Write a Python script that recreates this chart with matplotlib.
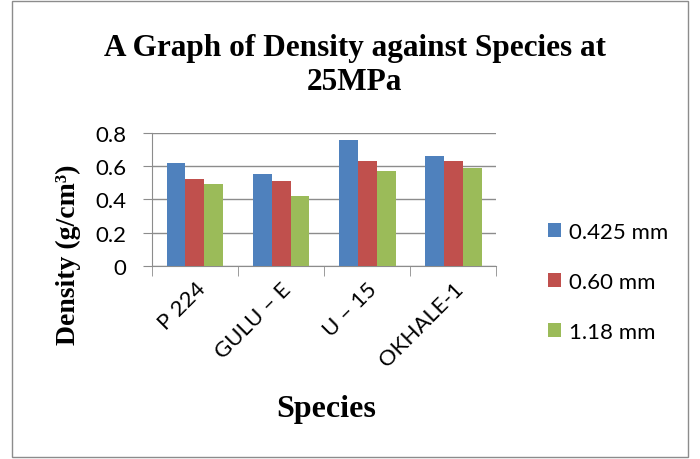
import numpy as np
import matplotlib.pyplot as plt
from matplotlib.patches import Rectangle

species = ['P 224', 'GULU – E', 'U – 15', 'OKHALE-1']
sizes = ['0.425 mm', '0.60 mm', '1.18 mm']
d_0425 = [0.62, 0.55, 0.76, 0.66]
d_060 = [0.52, 0.51, 0.63, 0.63]
d_118 = [0.49, 0.42, 0.57, 0.59]
colors = ['#4F81BD', '#C0504D', '#9BBB59']

fig = plt.figure(figsize=(7, 4.6), dpi=100)
ax = fig.add_axes([0.217, 0.42, 0.492, 0.289])

x = np.arange(len(species))
w = 0.22
for i, (vals, lab) in enumerate(zip([d_0425, d_060, d_118], sizes)):
    ax.bar(x + (i - 1) * w, vals, w, color=colors[i], label=lab, zorder=3)

ax.set_xlim(-0.5, len(species) - 0.5)
ax.set_ylim(0, 0.8)
ax.set_yticks([0, 0.2, 0.4, 0.6, 0.8])
ax.set_yticklabels(['0', '0.2', '0.4', '0.6', '0.8'], fontfamily='Lato', fontsize=16)
ax.grid(axis='y', color='#8c8c8c', linewidth=1, zorder=0)
ax.set_xticks(x)
ax.set_xticklabels(species, rotation=45, ha='right', rotation_mode='anchor',
                   fontfamily='Lato', fontsize=16)
ax.tick_params(axis='x', length=0, pad=9)
ax.set_xticks(np.arange(-0.5, len(species)), minor=True)
ax.tick_params(axis='x', which='minor', length=7, color='#8c8c8c')
ax.tick_params(axis='y', length=6.5, color='#8c8c8c', pad=12)
for s in ['top', 'right']:
    ax.spines[s].set_visible(False)
for s in ['left', 'bottom']:
    ax.spines[s].set_color('#8c8c8c')

fig.text(0.507, 1 - 34 / 460, 'A Graph of Density against Species at\n25MPa',
         ha='center', va='top', fontfamily='Liberation Serif', fontweight='bold',
         fontsize=22.5, linespacing=1.22)
fig.text(68 / 700, 1 - 255 / 460, 'Density (g/cm³)', rotation=90,
         ha='center', va='center', fontfamily='Liberation Serif',
         fontweight='bold', fontsize=20)
fig.text(326 / 700, 1 - 410 / 460, 'Species', ha='center', va='center',
         fontfamily='Liberation Serif', fontweight='bold', fontsize=23)

leg = fig.legend(loc='center left', bbox_to_anchor=(528 / 700, 1 - 283 / 460),
                 frameon=False, prop={'family': 'Lato', 'size': 16},
                 handlelength=0.6, handleheight=0.6, handletextpad=0.35,
                 labelspacing=1.35)

fig.patches.append(Rectangle((12 / 700, 0.005), 676 / 700, 0.99,
                             transform=fig.transFigure, fill=False,
                             edgecolor='#8c8c8c', linewidth=1))

fig.savefig('out.png', dpi=100)
